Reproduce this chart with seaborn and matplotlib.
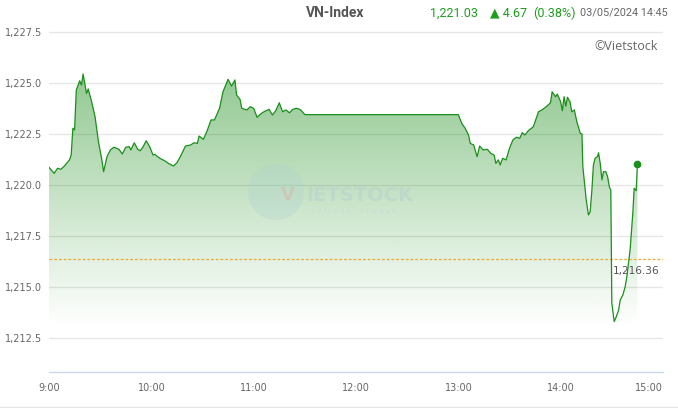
import numpy as np
import pandas as pd
import matplotlib.pyplot as plt
import seaborn as sns
from matplotlib.lines import Line2D
from matplotlib.patches import Ellipse

# 1. DATA (minutes after 9:00)
minutes = [0, 3, 5, 7, 9, 12, 13, 14, 15, 16, 18, 19, 20, 22, 23, 25, 27, 29, 31, 32,
           34, 36, 38, 41, 43, 45, 47, 48, 50, 52, 53.5, 55, 57, 59, 61, 62, 65, 68, 70, 73,
           75, 77, 80, 83, 85, 87, 88, 90.5, 92.5, 95, 97, 100, 102, 104, 105, 107, 109, 110, 112, 113,
           116, 118, 120, 122, 124.5, 126, 129, 131, 133, 135, 137, 139, 141, 143, 145, 147, 148, 150,
           240, 242, 244, 246, 247, 249, 251, 252.5, 254.5, 257, 259, 261, 262, 263.5, 264.5, 266,
           268, 270, 272, 274, 276, 277.5, 279, 281, 284, 287, 289, 292, 294, 295, 297, 298,
           300, 301, 302, 303, 304, 305.5, 306.5, 308, 309.5, 311.5, 312.5, 313, 315, 316.3, 317.3,
           318.3, 319.2, 320.2, 321.6, 322.2, 323.2, 324.2, 325.1, 326.5, 327.5, 328.6, 329.4, 330,
           331.4, 332.6, 334, 334.9, 336.5, 337.8, 338.8, 340.7, 342.3, 343.1, 344.3, 345]
index_values = [1220.87, 1220.57, 1220.82, 1220.77, 1220.93, 1221.23, 1221.47, 1222.78, 1222.70, 1224.66,
                1225.11, 1224.90, 1225.44, 1224.49, 1224.71, 1224.08, 1223.35, 1222.12, 1221.23, 1220.65,
                1221.39, 1221.72, 1221.85, 1221.75, 1221.52, 1221.85, 1221.88, 1221.72, 1222.07, 1221.75,
                1221.68, 1221.85, 1222.17, 1221.88, 1221.47, 1221.50, 1221.31, 1221.18, 1221.06, 1220.93,
                1221.09, 1221.39, 1221.91, 1221.96, 1222.07, 1222.04, 1222.40, 1222.24, 1222.61, 1223.19,
                1223.19, 1223.76, 1224.57, 1224.98, 1225.18, 1224.85, 1225.15, 1224.41, 1224.20, 1223.76,
                1223.68, 1223.84, 1223.76, 1223.32, 1223.51, 1223.59, 1223.71, 1223.43, 1223.65, 1224.03,
                1223.59, 1223.68, 1223.54, 1223.71, 1223.76, 1223.71, 1223.64, 1223.45,
                1223.45, 1223.02, 1222.78, 1222.45, 1222.04, 1221.96, 1221.39, 1221.91, 1221.72, 1221.75,
                1221.55, 1221.47, 1221.06, 1221.23, 1220.98, 1221.31,
                1221.23, 1221.80, 1222.21, 1222.34, 1222.29, 1222.57, 1222.45, 1222.66, 1222.86, 1223.59,
                1223.68, 1223.87, 1224.03, 1224.57, 1224.33, 1224.46,
                1224.08, 1223.64, 1224.33, 1223.87, 1224.30, 1224.08, 1223.59, 1223.68, 1223.10, 1222.53,
                1222.50, 1220.90, 1219.26, 1218.53, 1218.69,
                1219.75, 1220.98, 1221.31, 1221.39, 1221.58, 1221.06, 1220.25, 1220.65, 1220.65, 1220.41,
                1219.89, 1219.75, 1214.20,
                1213.30, 1213.54, 1213.87, 1214.36, 1214.61, 1215.01, 1215.50, 1216.81, 1218.61, 1219.84,
                1219.72, 1221.03]
prev_close = 1216.36
last_value = 1221.03
change = 4.67
change_pct = 0.38
y_ticks = [1212.5, 1215.0, 1217.5, 1220.0, 1222.5, 1225.0, 1227.5]
x_ticks = [0, 60, 120, 180, 240, 300, 360]
x_tick_labels = ["9:00", "10:00", "11:00", "12:00", "13:00", "14:00", "15:00"]

df = pd.DataFrame({"minute": minutes, "value": index_values})

# 2. STYLE
sns.set_theme(style="white")
plt.rcParams['font.family'] = ['DejaVu Sans']

W, H = 678, 408
fig = plt.figure(figsize=(W / 100, H / 100), dpi=100)
ax = fig.add_axes([49 / W, 1 - 372 / H, (663 - 49) / W, (372 - 20) / H])
ymin, ymax = 1210.83, 1228.09

# 3. GRADIENT AREA UNDER THE LINE
poly = ax.fill_between(df["minute"], df["value"], ymin, color="none", lw=0)
rows = np.linspace(ymax, ymin, 300)
grad = np.zeros((300, 1, 4))
grad[..., 1] = 128 / 255
grad[:, 0, 3] = np.clip((rows - 1213.0) / (ymax - 1213.0), 0, 1) * 0.52
im = ax.imshow(grad, extent=[0, 360, ymin, ymax], aspect="auto", zorder=1)
im.set_clip_path(poly.get_paths()[0], ax.transData)

# 4. LINE
green = "#1a8f1a"
sns.lineplot(data=df, x="minute", y="value", ax=ax, color=green, lw=0.9,
             estimator=None, zorder=3)
ax.plot([minutes[-1]], [index_values[-1]], "o", color=green, ms=4.5, zorder=4)

# reference line (previous close)
ax.axhline(prev_close, color="#f0a830", lw=0.9, ls=(0, (2.2, 1.6)), zorder=2)
ax.annotate(f"{prev_close:,.2f}", xy=(0.995, prev_close), xycoords=("axes fraction", "data"),
            xytext=(0, -5), textcoords="offset points", ha="right", va="top",
            fontsize=7.6, color="#555555", zorder=5)

# 5. AXES
ax.set_xlim(0, 360)
ax.set_ylim(ymin, ymax)
ax.set_yticks(y_ticks)
ax.set_yticklabels([f"{v:,.1f}" for v in y_ticks])
ax.set_xticks(x_ticks)
ax.set_xticklabels(x_tick_labels)
ax.get_xticklabels()[-1].set_ha("right")
ax.set_xlabel("")
ax.set_ylabel("")
ax.yaxis.grid(True, color="#e6e6e6", lw=0.9)
ax.set_axisbelow(True)
ax.tick_params(axis="y", length=0, pad=5, labelsize=7, labelcolor="#666666")
ax.tick_params(axis="x", length=3, width=0.8, color="#ccd6eb", direction="out",
               pad=5, labelsize=7, labelcolor="#666666")
for side in ["top", "right", "left"]:
    ax.spines[side].set_visible(False)
ax.spines["bottom"].set_color("#ccd6eb")
ax.spines["bottom"].set_linewidth(0.9)

# 6. HEADER AND WATERMARK
def fx(px):
    return px / W

def fy(py):
    return 1 - py / H

hdr = ["Roboto", "DejaVu Sans"]
fig.text(fx(335), fy(13), "VN-Index", ha="center", va="center", fontsize=10,
         fontweight="bold", color="#555555", family=hdr)
fig.text(fx(430), fy(13), f"{last_value:,.2f}", ha="left", va="center", fontsize=9,
         color="#1f9d1f", family=hdr)
fig.text(fx(490), fy(13), f"\u25b2 {change:.2f}", ha="left", va="center", fontsize=9,
         color="#1f9d1f", family=hdr)
fig.text(fx(533), fy(13), f"({change_pct:.2f}%)", ha="left", va="center", fontsize=9,
         color="#1f9d1f", family=hdr)
fig.text(fx(580), fy(13), "03/05/2024 14:45", ha="left", va="center", fontsize=7.8,
         color="#666666", family=hdr)
fig.text(fx(658), fy(46), "\u00a9Vietstock", ha="right", va="center", fontsize=9,
         color="#666666", family=["Open Sans", "DejaVu Sans"])

# faint logo watermark
fig.add_artist(Ellipse((fx(276), fy(192)), 56 / W, 56 / H, transform=fig.transFigure,
                       color="#a9cfd2", alpha=0.25, lw=0, zorder=0.5))
fig.text(fx(281), fy(195), "V", ha="left", va="center", fontsize=13, fontweight="bold",
         color="#e2a89a", alpha=0.4, family=["DejaVu Sans"])
fig.text(fx(306), fy(195), "IETSTOCK", ha="left", va="center", fontsize=14, fontweight="bold",
         color="#b6ccd0", alpha=0.45, family=["DejaVu Sans"])
fig.text(fx(312), fy(211), "r e f r e s h    a l w a y s", ha="left", va="center", fontsize=6,
         color="#c3d6d8", alpha=0.5, family=hdr)

fig.add_artist(Line2D([0, 1], [fy(406.5)] * 2, transform=fig.transFigure,
                      color="#e6e6e6", lw=1))

fig.savefig("out.png", dpi=100)
